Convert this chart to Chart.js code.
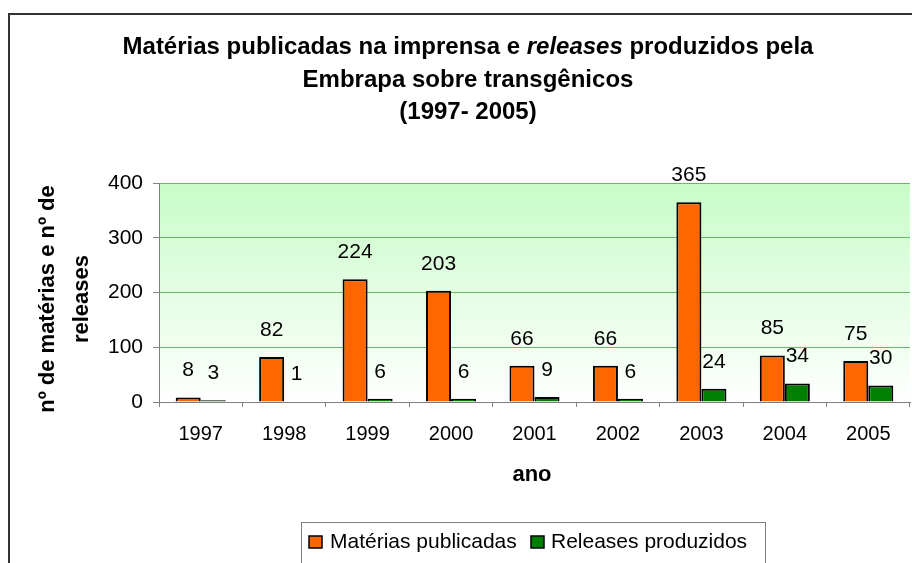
<!DOCTYPE html>
<html>
<head>
<meta charset="utf-8">
<script src="https://cdn.jsdelivr.net/npm/chart.js@4"></script>
<style>
  html, body { margin: 0; padding: 0; background: #ffffff; }
  #wrap { width: 912px; height: 563px; }
</style>
</head>
<body>
<div id="wrap"><canvas id="c" width="912" height="563"></canvas></div>
<script>
const years = ['1997', '1998', '1999', '2000', '2001', '2002', '2003', '2004', '2005'];
const materias = [8, 82, 224, 203, 66, 66, 365, 85, 75];
const releases = [3, 1, 6, 6, 9, 6, 24, 34, 30];
const yTicks = [0, 100, 200, 300, 400];
const seriesNames = ['Matérias publicadas', 'Releases produzidos'];
const titleLines = [
  [['Matérias publicadas na imprensa e ', false], ['releases', true], [' produzidos pela', false]],
  [['Embrapa sobre transgênicos', false]],
  [['(1997- 2005)', false]]
];
const yTitle = ['nº de matérias e nº de', 'releases'];
const xTitle = 'ano';

const FONT = '"Liberation Sans", Arial, sans-serif';

const decor = {
  id: 'decor',
  beforeDraw(chart) {
    const { ctx, chartArea: a } = chart;
    ctx.save();
    const g = ctx.createLinearGradient(0, a.top, 0, a.bottom);
    g.addColorStop(0, '#c8fcc8');
    g.addColorStop(1, '#ffffff');
    ctx.fillStyle = g;
    ctx.fillRect(a.left, a.top, a.right - a.left, a.bottom - a.top);
    ctx.restore();
  },
  afterDraw(chart) {
    const { ctx } = chart;
    ctx.save();
    // outer frame
    ctx.strokeStyle = '#333333';
    ctx.lineWidth = 2;
    ctx.beginPath();
    ctx.moveTo(9, 600);
    ctx.lineTo(9, 14);
    ctx.lineTo(950, 14);
    ctx.stroke();

    // title
    ctx.fillStyle = '#000';
    ctx.textBaseline = 'middle';
    ctx.textAlign = 'left';
    const ys = [47, 80, 112];
    const cx = 468;
    titleLines.forEach((line, i) => {
      let w = 0;
      line.forEach(([t, it]) => {
        ctx.font = (it ? 'italic ' : '') + 'bold 24px ' + FONT;
        w += ctx.measureText(t).width;
      });
      let x = cx - w / 2;
      line.forEach(([t, it]) => {
        ctx.font = (it ? 'italic ' : '') + 'bold 24px ' + FONT;
        ctx.fillText(t, x, ys[i]);
        x += ctx.measureText(t).width;
      });
    });

    // y title
    ctx.font = 'bold 22px ' + FONT;
    ctx.textAlign = 'center';
    ctx.save();
    ctx.translate(48, 299);
    ctx.rotate(-Math.PI / 2);
    ctx.fillText(yTitle[0], 0, 0);
    ctx.fillText(yTitle[1], 0, 34);
    ctx.restore();

    // x title
    ctx.fillText(xTitle, 532, 475);

    // data labels
    ctx.font = '21px ' + FONT;
    ctx.textAlign = 'center';
    chart.data.datasets.forEach((ds, di) => {
      const meta = chart.getDatasetMeta(di);
      meta.data.forEach((bar, i) => {
        ctx.fillText(String(ds.data[i]), bar.x, bar.y - 27);
      });
    });

    // legend
    ctx.strokeStyle = '#808080';
    ctx.lineWidth = 1;
    ctx.strokeRect(301.5, 522.5, 464, 60);
    const items = [[309, 330], [531, 551]];
    ctx.font = '21px ' + FONT;
    ctx.textAlign = 'left';
    chart.data.datasets.forEach((ds, di) => {
      const [bx, tx] = items[di];
      ctx.fillStyle = ds.backgroundColor;
      ctx.fillRect(bx, 536, 13, 12);
      ctx.strokeStyle = '#000';
      ctx.lineWidth = 1.5;
      ctx.strokeRect(bx, 536, 13, 12);
      ctx.fillStyle = '#000';
      ctx.fillText(ds.label, tx, 542);
    });
    ctx.restore();
  }
};

new Chart(document.getElementById('c'), {
  type: 'bar',
  data: {
    labels: years,
    datasets: [
      { label: seriesNames[0], data: materias, backgroundColor: '#ff6600', borderColor: '#000', borderWidth: 2, borderSkipped: 'bottom' },
      { label: seriesNames[1], data: releases, backgroundColor: '#008000', borderColor: '#000', borderWidth: 2, borderSkipped: 'bottom' }
    ]
  },
  options: {
    responsive: false,
    animation: false,
    devicePixelRatio: 1,
    layout: { padding: { top: 183, right: 2, bottom: 0, left: 0 } },
    datasets: { bar: { categoryPercentage: 0.6, barPercentage: 1.0 } },
    plugins: { legend: { display: false }, title: { display: false }, tooltip: { enabled: false } },
    scales: {
      x: {
        afterFit(s) { s.height = 161; },
        grid: { drawOnChartArea: false, tickLength: 5, color: '#808080', offset: true },
        border: { color: '#808080', width: 1 },
        ticks: { color: '#000', font: { family: FONT, size: 20 }, padding: 15, maxRotation: 0 }
      },
      y: {
        min: 0, max: 400,
        afterFit(s) { s.width = 159; },
        afterBuildTicks(s) { s.ticks = yTicks.map(v => ({ value: v })); },
        grid: {
          tickLength: 6,
          color: c => (c.tick && c.tick.value === 0) ? '#808080' : '#66bb66',
          tickColor: '#808080',
          lineWidth: 1
        },
        border: { color: '#808080', width: 1 },
        ticks: { color: '#000', font: { family: FONT, size: 21 }, padding: 10 }
      }
    }
  },
  plugins: [decor]
});
</script>
</body>
</html>
